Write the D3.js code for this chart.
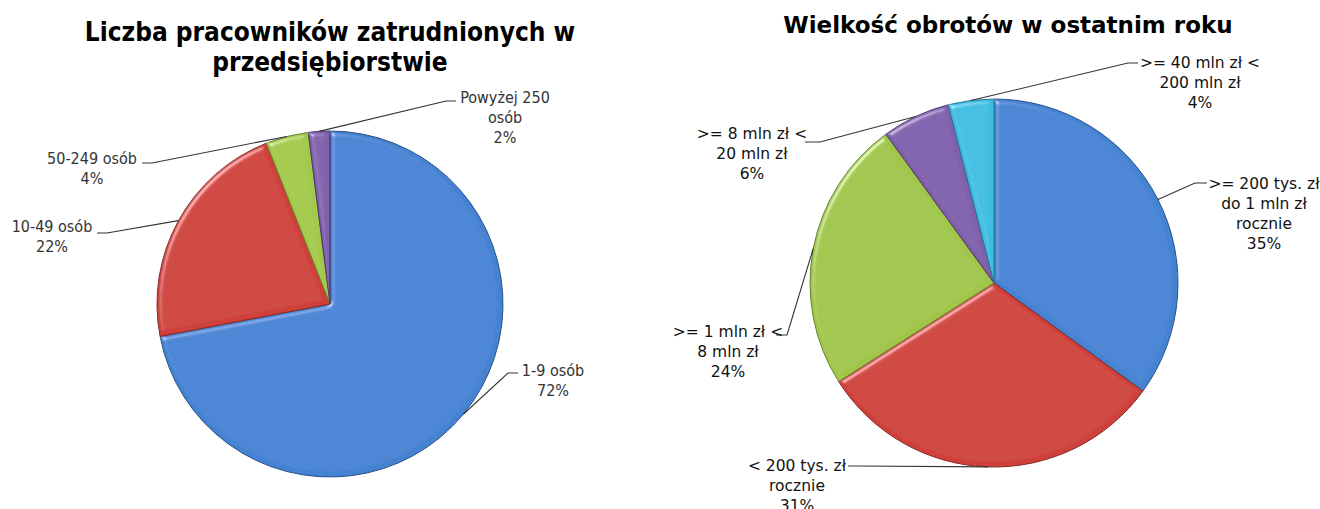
<!DOCTYPE html>
<html lang="pl">
<head>
<meta charset="utf-8">
<title>Pie charts</title>
<script src="https://cdn.jsdelivr.net/npm/d3@7"></script>
<style>
  body { margin: 0; background: #fff; }
  svg text { font-family: "DejaVu Sans Condensed", "DejaVu Sans", sans-serif; }
</style>
</head>
<body>
<div id="chart"></div>
<script>
// ---- data ----
const empTitle = ["Liczba pracowników zatrudnionych w", "przedsiębiorstwie"];
const empCategories = ["1-9 osób", "10-49 osób", "50-249 osób", "Powyżej 250 osób"];
const empValues = [72, 22, 4, 2];
const empLabelLines = [["1-9 osób"], ["10-49 osób"], ["50-249 osób"], ["Powyżej 250", "osób"]];

const turnTitle = ["Wielkość obrotów w ostatnim roku"];
const turnCategories = [">= 200 tys. zł do 1 mln zł rocznie", "< 200 tys. zł rocznie",
  ">= 1 mln zł < 8 mln zł", ">= 8 mln zł < 20 mln zł", ">= 40 mln zł < 200 mln zł"];
const turnValues = [35, 31, 24, 6, 4];
const turnLabelLines = [[">= 200 tys. zł", "do 1 mln zł", "rocznie"], ["< 200 tys. zł", "rocznie"],
  [">= 1 mln zł <", "8 mln zł"], [">= 8 mln zł <", "20 mln zł"], [">= 40 mln zł <", "200 mln zł"]];

// slice colours (top, bottom of gradient)
const empColors = [["#4483d2", "#3467ac"], ["#cf413b", "#ad3330"], ["#a2c949", "#86aa3c"], ["#8060ad", "#62448a"]];
const turnColors = [["#4483d2", "#3467ac"], ["#cf413b", "#ad3330"], ["#a0c548", "#84a83b"],
  ["#8060ad", "#62448a"], ["#3cbde0", "#289fc2"]];

const W = 1320, H = 509;

const svg = d3.select("#chart").append("svg")
  .attr("width", W).attr("height", H);

const defs = svg.append("defs");

// soft bevel highlight like office charts
const bevel = defs.append("filter").attr("id", "bevel")
  .attr("x", "-5%").attr("y", "-5%").attr("width", "110%").attr("height", "110%");
bevel.append("feGaussianBlur").attr("in", "SourceAlpha").attr("stdDeviation", 2.5).attr("result", "blur");
bevel.append("feSpecularLighting").attr("in", "blur").attr("surfaceScale", 3)
  .attr("specularConstant", 0.7).attr("specularExponent", 40)
  .attr("lighting-color", "#ffffff").attr("result", "spec")
  .append("feDistantLight").attr("azimuth", 225).attr("elevation", 45);
bevel.append("feComposite").attr("in", "spec").attr("in2", "SourceAlpha")
  .attr("operator", "in").attr("result", "specOut");
bevel.append("feComposite").attr("in", "SourceGraphic").attr("in2", "specOut")
  .attr("operator", "arithmetic").attr("k1", 0).attr("k2", 1).attr("k3", 0.6).attr("k4", 0);

function drawPie(opts) {
  const g = svg.append("g");
  const cx = opts.cx, cy = opts.cy, r = opts.r;

  // title
  g.append("text")
    .attr("text-anchor", "middle")
    .attr("font-weight", "bold")
    .attr("font-size", opts.titleSize)
    .style("font-family", opts.titleFont)
    .attr("fill", "#000")
    .selectAll("tspan")
    .data(opts.title)
    .join("tspan")
      .attr("x", opts.titleX)
      .attr("y", (d, i) => opts.titleY + i * opts.titleLH)
      .text(d => d);

  const pie = d3.pie().sort(null).value(d => d);
  const arcs = pie(opts.values);
  const arc = d3.arc().innerRadius(0).outerRadius(r);
  const edge = d3.arc().innerRadius(r).outerRadius(r);

  // gradients
  opts.colors.forEach((c, i) => {
    const lg = defs.append("linearGradient")
      .attr("id", opts.id + "-g" + i)
      .attr("gradientUnits", "userSpaceOnUse")
      .attr("x1", cx - r * 0.3).attr("y1", cy - r)
      .attr("x2", cx + r * 0.3).attr("y2", cy + r);
    lg.append("stop").attr("offset", "0%").attr("stop-color", c[0]);
    lg.append("stop").attr("offset", "100%").attr("stop-color", c[1]);
  });

  const pg = g.append("g").attr("transform", `translate(${cx},${cy})`);
  pg.selectAll("path")
    .data(arcs)
    .join("path")
      .attr("d", arc)
      .attr("fill", (d, i) => `url(#${opts.id}-g${i})`)
      .attr("stroke", (d, i) => d3.color(opts.colors[i][1]).darker(0.7))
      .attr("stroke-width", 1)
      .attr("stroke-linejoin", "round")
      .attr("filter", "url(#bevel)");

  // labels with leader lines
  arcs.forEach((a, i) => {
    const L = opts.layout[i];
    const p = edge.centroid(a);
    const ax = cx + p[0], ay = cy + p[1];
    g.append("path")
      .attr("d", d3.line()([[L.sx, L.sy], [L.ex, L.sy], [ax, ay]]))
      .attr("fill", "none")
      .attr("stroke", "#333")
      .attr("stroke-width", 1.1);

    const lines = opts.labelLines[i].concat([d3.format(".0%")(opts.values[i] / 100)]);
    g.append("text")
      .attr("text-anchor", "middle")
      .attr("font-size", opts.labelSize)
      .style("font-family", opts.labelFont)
      .attr("fill", opts.labelColor)
      .selectAll("tspan")
      .data(lines)
      .join("tspan")
        .attr("x", L.x)
        .attr("y", (d, j) => L.y + j * opts.labelLH)
        .text(d => d);
  });
}

drawPie({
  id: "emp",
  cx: 330, cy: 304, r: 173,
  title: empTitle, titleX: 330, titleY: 41, titleLH: 30, titleSize: 26,
  titleFont: "'DejaVu Sans Condensed', sans-serif",
  values: empValues, colors: empColors, labelLines: empLabelLines,
  labelSize: 16, labelLH: 20, labelColor: "#333",
  labelFont: "'DejaVu Sans Condensed', sans-serif",
  layout: [
    {x: 553, y: 376, sx: 518, sy: 373, ex: 508},
    {x: 52, y: 232, sx: 97, sy: 233, ex: 107},
    {x: 92, y: 164, sx: 142, sy: 163, ex: 152},
    {x: 505, y: 103, sx: 456, sy: 101, ex: 446}
  ]
});

drawPie({
  id: "turn",
  cx: 994, cy: 283, r: 184,
  title: turnTitle, titleX: 1008, titleY: 33, titleLH: 30, titleSize: 23,
  titleFont: "'DejaVu Sans', sans-serif",
  values: turnValues, colors: turnColors, labelLines: turnLabelLines,
  labelSize: 15.5, labelLH: 20, labelColor: "#111",
  labelFont: "'DejaVu Sans', sans-serif",
  layout: [
    {x: 1264, y: 189, sx: 1207, sy: 183, ex: 1195},
    {x: 797, y: 471, sx: 848, sy: 466, ex: 858},
    {x: 728, y: 337, sx: 776, sy: 335, ex: 787},
    {x: 752, y: 139, sx: 805, sy: 142, ex: 820},
    {x: 1200, y: 68, sx: 1138, sy: 63, ex: 1128}
  ]
});
</script>
</body>
</html>
